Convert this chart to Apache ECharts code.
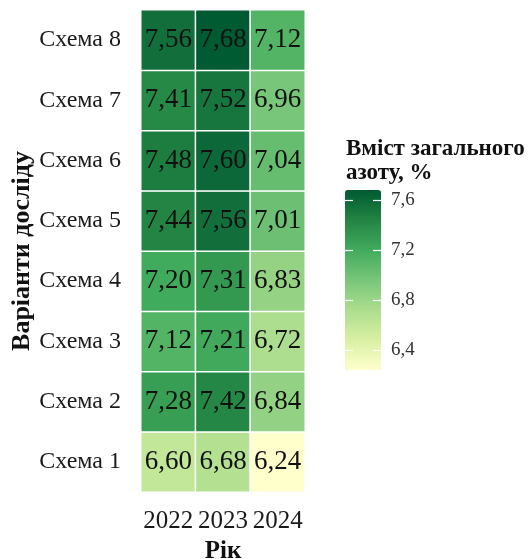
<!DOCTYPE html>
<html>
<head>
<meta charset="utf-8">
<script src="https://cdn.jsdelivr.net/npm/echarts@6/dist/echarts.min.js"></script>
<style>
  html, body { margin: 0; padding: 0; background: #fff; }
  #chart { width: 531px; height: 559px; }
</style>
</head>
<body>
<div id="chart"></div>
<script>
// data
const years = ['2022', '2023', '2024'];
const schemes = ['Схема 1', 'Схема 2', 'Схема 3', 'Схема 4', 'Схема 5', 'Схема 6', 'Схема 7', 'Схема 8'];
const values2022 = [6.60, 7.28, 7.12, 7.20, 7.44, 7.48, 7.41, 7.56];
const values2023 = [6.68, 7.42, 7.21, 7.31, 7.56, 7.60, 7.52, 7.68];
const values2024 = [6.24, 6.84, 6.72, 6.83, 7.01, 7.04, 6.96, 7.12];
const legendTicks = [6.4, 6.8, 7.2, 7.6];
const colorMin = 6.24;
const colorMax = 7.68;

const ylgn = ['#ffffcc', '#d9f0a3', '#addd8e', '#78c679', '#41ab5d', '#238443', '#005a32'];
const font = 'Liberation Serif';
const fmt = v => v.toFixed(2).replace('.', ',');

let cells = [];
[values2022, values2023, values2024].forEach((col, xi) => {
    col.forEach((v, yi) => cells.push([xi, yi, v]));
});

const chart = echarts.init(document.getElementById('chart'));
chart.setOption({
    animation: false,
    textStyle: { fontFamily: font },
    grid: [
        { left: 141, top: 10, width: 164, height: 482, outerBoundsMode: 'none' },
        // grid only used to draw the legend ticks over the colour bar
        { left: 345, top: 190, width: 36, height: 180, outerBoundsMode: 'none' }
    ],
    xAxis: [
        {
            type: 'category', data: years, gridIndex: 0,
            axisLine: { show: false }, axisTick: { show: false },
            axisLabel: { color: '#1a1a1a', fontSize: 25, margin: 17, interval: 0, hideOverlap: false, fontFamily: font },
            name: 'Рік', nameLocation: 'middle', nameGap: 44,
            nameTextStyle: { color: '#111', fontSize: 25, fontWeight: 'bold', fontFamily: font }
        },
        { type: 'value', gridIndex: 1, show: false, min: 0, max: 1 }
    ],
    yAxis: [
        {
            type: 'category', data: schemes, gridIndex: 0,
            axisLine: { show: false }, axisTick: { show: false },
            axisLabel: { color: '#1a1a1a', fontSize: 24, margin: 20, interval: 0, fontFamily: font },
            name: 'Варіанти досліду', nameLocation: 'middle', nameGap: 100,
            nameTextStyle: { color: '#111', fontSize: 26, fontWeight: 'bold', fontFamily: font }
        },
        {
            type: 'value', gridIndex: 1, position: 'left', min: colorMin, max: colorMax, z: 10,
            axisLine: { show: false }, splitLine: { show: false },
            axisTick: { show: true, inside: true, length: 8, lineStyle: { color: '#fff', width: 1.2 }, customValues: legendTicks },
            axisLabel: { show: false }
        },
        {
            type: 'value', gridIndex: 1, position: 'right', min: colorMin, max: colorMax, z: 10,
            axisLine: { show: false }, splitLine: { show: false },
            axisTick: { show: true, inside: true, length: 8, lineStyle: { color: '#fff', width: 1.2 }, customValues: legendTicks },
            axisLabel: {
                show: true, customValues: legendTicks, margin: 10, color: '#333', fontSize: 19, fontFamily: font,
                formatter: v => v.toFixed(1).replace('.', ',')
            }
        }
    ],
    visualMap: {
        type: 'continuous', min: colorMin, max: colorMax, calculable: false,
        seriesIndex: 0, dimension: 2,
        left: 345, top: 190, itemWidth: 36, itemHeight: 180, padding: 0,
        inRange: { color: ylgn },
        text: null, showLabel: false
    },
    graphic: [
        {
            type: 'text', left: 346, top: 137,
            style: {
                text: 'Вміст загального\nазоту, %', fill: '#111',
                font: 'bold 23px "Liberation Serif"', lineHeight: 24
            }
        }
    ],
    series: [
        {
            type: 'heatmap', xAxisIndex: 0, yAxisIndex: 0, data: cells,
            itemStyle: { borderColor: '#fff', borderWidth: 1.5 },
            label: {
                show: true, color: '#111', fontSize: 27, fontFamily: font,
                formatter: p => fmt(p.value[2])
            },
            emphasis: { disabled: true }
        }
    ]
});
</script>
</body>
</html>
